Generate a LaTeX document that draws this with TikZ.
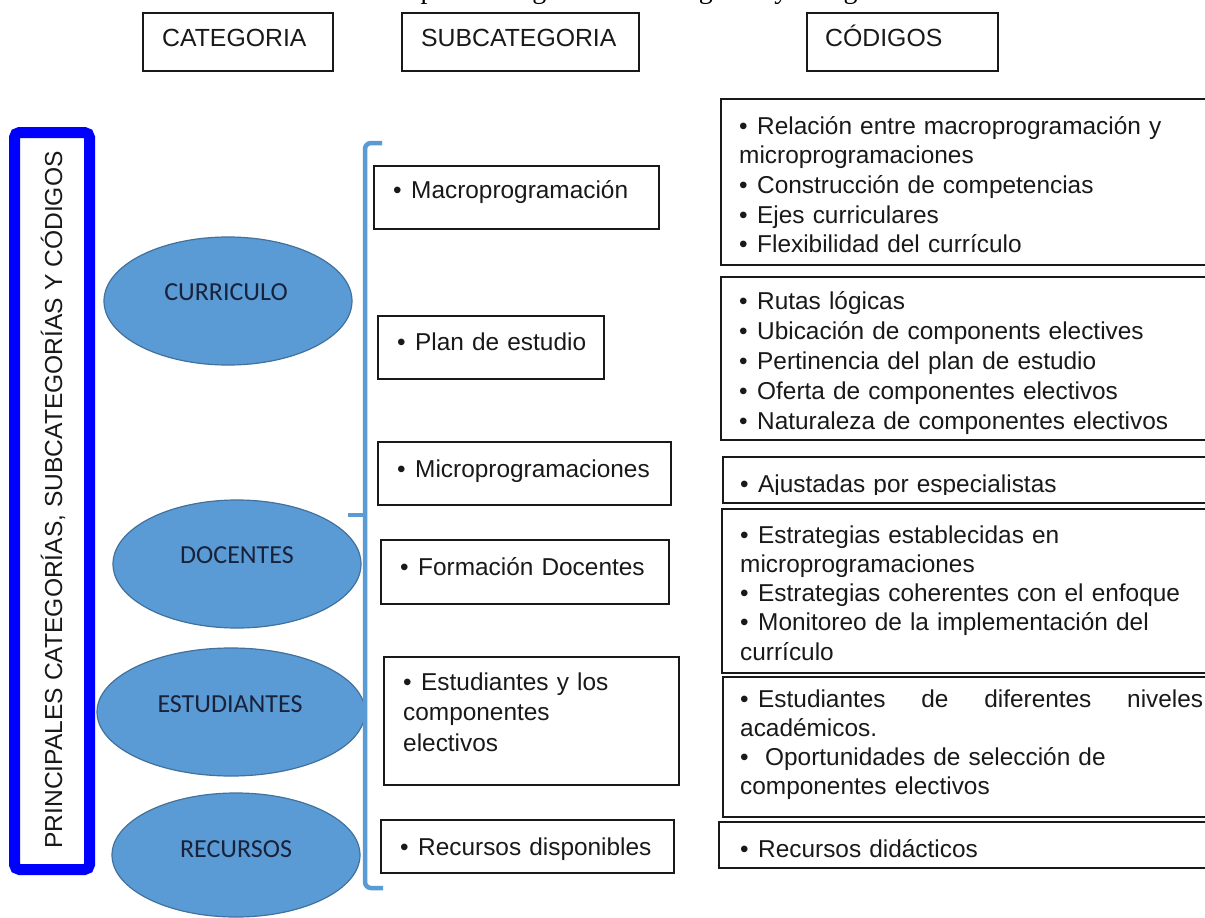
\documentclass[tikz,border=0pt]{standalone}
\usepackage{fontspec}
\setmainfont{Liberation Sans}
\newfontfamily\calfont{Carlito}
\newfontfamily\titlefont{Liberation Serif}
\usetikzlibrary{calc,shapes.geometric}
\definecolor{ellfill}{RGB}{91,155,213}
\definecolor{elldraw}{RGB}{65,113,156}
\definecolor{ink}{RGB}{25,25,25}
\definecolor{navy}{RGB}{24,34,58}
\definecolor{frameblue}{RGB}{0,0,255}
\setlength{\parskip}{0pt}
\newcommand{\bfirst}[1]{\hangindent=18pt\hangafter=1\makebox[18pt][l]{\textbullet}#1}
\newcommand{\bitem}[1]{\par\noindent\hangindent=18pt\hangafter=1\makebox[18pt][l]{\textbullet}#1}
\tikzset{
  box/.style={draw=ink, line width=1.8pt, inner sep=0pt, outer sep=0pt, anchor=north west},
  hdr/.style={font=\fontsize{24.8}{30}\selectfont, text=ink, inner sep=0pt, anchor=base west},
  txt/.style={font=\fontsize{24.4}{29.7}\selectfont, text=ink, inner sep=0pt, anchor=base west, text width=480pt, align=left},
  cat/.style={ellipse, fill=ellfill, draw=elldraw, line width=1.2pt, inner sep=0pt, outer sep=0pt},
  cattxt/.style={font=\calfont\fontsize{26}{30}\selectfont, text=navy, inner sep=0pt, anchor=base},
  brk/.style={draw=ellfill, line width=4.5pt, rounded corners=6pt},
  frame/.style={draw=frameblue, line width=11pt, rounded corners=5pt, inner sep=0pt, outer sep=0pt, anchor=north west}
}
\begin{document}
\begin{tikzpicture}[x=1pt,y=-1pt]
\useasboundingbox[fill=white] (0,0) rectangle (1205,918);

% cut-off caption at the top
\begin{scope}
\clip (0,0) rectangle (1205,20);
\node[font=\titlefont\fontsize{28}{32}\selectfont, inner sep=0pt, anchor=base west] (title) at (383,-1.5) {Mapa de categorías\hspace{7pt} subcategorías y códigos};
\end{scope}

% headers
\node[box, minimum width=190pt, minimum height=58pt] (hcat) at (143,13) {};
\node[hdr] (hcatt) at (162,46) {CATEGORIA};
\node[box, minimum width=237pt, minimum height=58pt] (hsub) at (402,13) {};
\node[hdr] (hsubt) at (421,46) {SUBCATEGORIA};
\node[box, minimum width=191pt, minimum height=58pt] (hcod) at (807,13) {};
\node[hdr] (hcodt) at (825,46) {CÓDIGOS};

% blue frame with vertical title
\node[frame, minimum width=75pt, minimum height=737pt] (frm) at (14.5,132.5) {};
\node[font=\fontsize{24.6}{28}\selectfont, text=ink, inner sep=0pt, anchor=base, rotate=90] (frmt) at (62,500) {PRINCIPALES CATEGORÍAS, SUBCATEGORÍAS Y CÓDIGOS};

% categories
\node[cat, minimum width=248pt, minimum height=128pt] (curr) at (228,301) {};
\node[cattxt] (currt) at (226,300) {CURRICULO};
\node[cat, minimum width=248pt, minimum height=128pt] (doc) at (237,564) {};
\node[cattxt] (doct) at (237,563) {DOCENTES};
\node[cat, minimum width=268pt, minimum height=128pt] (est) at (231,712) {};
\node[cattxt] (estt) at (230,712) {ESTUDIANTES};
\node[cat, minimum width=248pt, minimum height=124pt] (rec) at (236,855) {};
\node[cattxt] (rect) at (236,857) {RECURSOS};

% bracket
\coordinate (bt) at (382,143);
\coordinate (bb) at (383,888);
\coordinate (bm) at (348,515);
\draw[brk] (bt) -- (365,143) -- (365,888) -- (bb);
\draw[draw=ellfill, line width=4.5pt] (bm) -- (365,515);

% subcategories
\node[box, minimum width=285pt, minimum height=63pt] (s1) at (374,166) {};
\node[txt] (s1t) at (393,198) {\bfirst{Macroprogramación}};
\node[box, minimum width=226pt, minimum height=63pt] (s2) at (378,316) {};
\node[txt] (s2t) at (397,350) {\bfirst{Plan de estudio}};
\node[box, minimum width=293pt, minimum height=63pt] (s3) at (378,442) {};
\node[txt] (s3t) at (397,477) {\bfirst{Microprogramaciones}};
\node[box, minimum width=288pt, minimum height=64pt] (s4) at (381,540) {};
\node[txt] (s4t) at (400,575) {\bfirst{Formación Docentes}};
\node[box, minimum width=295pt, minimum height=128pt] (s5) at (384,657) {};
\node[txt, font=\fontsize{24.4}{30.5}\selectfont] (s5t) at (403,690) {\bfirst{Estudiantes y los\\componentes\\electivos}};
\node[box, minimum width=293pt, minimum height=53pt] (s6) at (381,820) {};
\node[txt] (s6t) at (400,855) {\bfirst{Recursos disponibles}};

% codes
\node[box, minimum width=495pt, minimum height=166pt] (c1) at (721,99) {};
\node[txt] (c1t) at (739,134) {\bfirst{Relación entre macroprogramación y\\microprogramaciones}\bitem{Construcción de competencias}\bitem{Ejes curriculares}\bitem{Flexibilidad del currículo}};
\node[box, minimum width=495pt, minimum height=163pt] (c2) at (721,277) {};
\node[txt, font=\fontsize{24.4}{30.2}\selectfont] (c2t) at (739,309) {\bfirst{Rutas lógicas}\bitem{Ubicación de components electives}\bitem{Pertinencia del plan de estudio}\bitem{Oferta de componentes electivos}\bitem{Naturaleza de componentes electivos}};
\node[box, minimum width=493pt, minimum height=46pt] (c3) at (723,457) {};
\begin{scope}
\clip (700,450) rectangle (1205,494);
\node[txt] (c3t) at (740,492.5) {\bfirst{Ajustadas por especialistas}};
\end{scope}
\node[box, minimum width=494pt, minimum height=164pt] (c4) at (722,509) {};
\node[txt, font=\fontsize{24.4}{29.3}\selectfont] (c4t) at (740,543) {\bfirst{Estrategias establecidas en\\microprogramaciones}\bitem{Estrategias coherentes con el enfoque}\bitem{Monitoreo de la implementación del\\currículo}};
\node[box, minimum width=493pt, minimum height=140pt] (c5) at (723,677) {};
\node[txt, font=\fontsize{24.4}{29}\selectfont] (c5t) at (740,707) {\bfirst{\makebox[445pt][l]{Estudiantes\hfill de\hfill diferentes\hfill niveles}\\académicos.}\bitem{\hspace{7pt}Oportunidades de selección de\\componentes electivos}};
\node[box, minimum width=497pt, minimum height=46pt] (c6) at (719,822) {};
\node[txt] (c6t) at (740,857) {\bfirst{Recursos didácticos}};
\end{tikzpicture}
\end{document}
